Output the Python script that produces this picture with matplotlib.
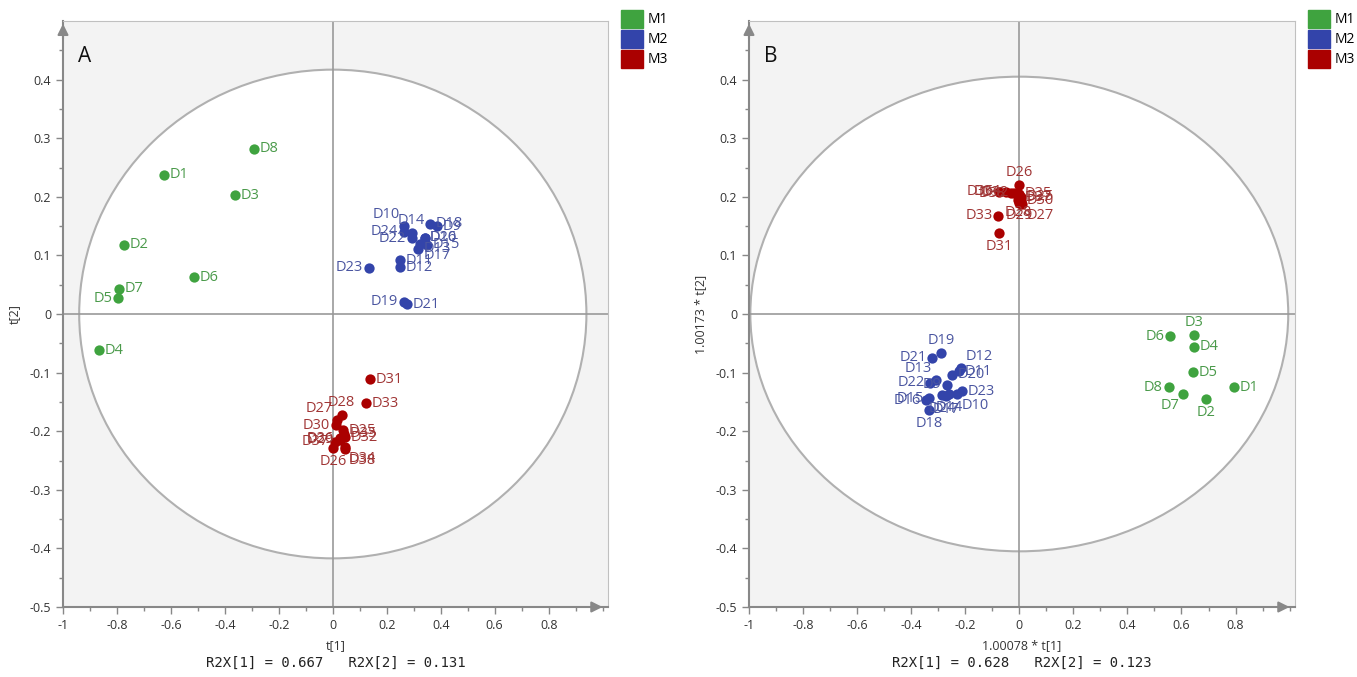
import numpy as np
import matplotlib.pyplot as plt
from matplotlib.patches import Ellipse, Patch

# ---- data ----
m1_names = ['D%d' % i for i in range(1, 9)]
m2_names = ['D%d' % i for i in range(9, 25)]
m3_names = ['D%d' % i for i in range(25, 39)]

# panel A : t[1], t[2]
a_m1_x = [-0.626, -0.774, -0.363, -0.867, -0.796, -0.515, -0.793, -0.293]
a_m1_y = [0.238, 0.118, 0.203, -0.062, 0.027, 0.063, 0.043, 0.282]
a_m2_x = [0.385, 0.263, 0.248, 0.248, 0.315, 0.292, 0.348, 0.340, 0.322,
          0.359, 0.263, 0.340, 0.274, 0.292, 0.133, 0.263]
a_m2_y = [0.150, 0.150, 0.092, 0.080, 0.111, 0.138, 0.118, 0.130, 0.120,
          0.154, 0.021, 0.130, 0.017, 0.129, 0.079, 0.140]
a_m3_x = [0.037, 0.000, 0.015, 0.033, 0.026, 0.010, 0.137, 0.044, 0.122,
          0.044, 0.040, 0.026, 0.007, 0.044]
a_m3_y = [-0.198, -0.229, -0.181, -0.173, -0.215, -0.190, -0.111, -0.210,
          -0.152, -0.227, -0.204, -0.212, -0.218, -0.230]

# panel B : 1.00078*t[1], 1.00173*t[2]
b_m1_x = [0.793, 0.692, 0.648, 0.648, 0.644, 0.559, 0.607, 0.552]
b_m1_y = [-0.125, -0.145, -0.036, -0.056, -0.099, -0.038, -0.137, -0.125]
b_m2_x = [-0.267, -0.230, -0.222, -0.215, -0.307, -0.259, -0.333, -0.344,
          -0.270, -0.333, -0.289, -0.248, -0.322, -0.330, -0.211, -0.285]
b_m2_y = [-0.121, -0.137, -0.098, -0.092, -0.113, -0.137, -0.144, -0.147,
          -0.140, -0.164, -0.067, -0.104, -0.075, -0.117, -0.132, -0.139]
b_m3_x = [0.005, 0.000, 0.010, -0.005, 0.000, 0.005, -0.074, -0.018,
          -0.078, -0.048, 0.000, -0.074, 0.000, -0.030]
b_m3_y = [0.200, 0.220, 0.188, 0.195, 0.190, 0.193, 0.138, 0.207,
          0.168, 0.209, 0.205, 0.209, 0.198, 0.206]

groups = ['M1', 'M2', 'M3']
colors = ['#3fa33f', '#3344aa', '#aa0000']
text_colors = ['#4a9a4a', '#4a55a0', '#a03535']

# label placement (default right of the point)
place_a = {'D5': 'l', 'D10': 'tl', 'D14': 't', 'D24': 'l', 'D22': 'l',
           'D17': 'br', 'D23': 'l', 'D19': 'l', 'D28': 't', 'D27': 'tl',
           'D30': 'l', 'D36': 'l', 'D29': 'l', 'D37': 'l', 'D34': 'br',
           'D26': 'b', 'D38': 'br'}
place_b = {'D3': 't', 'D6': 'l', 'D8': 'l', 'D7': 'bl', 'D2': 'b',
           'D19': 't', 'D21': 'l', 'D12': 'tr', 'D13': 'tl', 'D22': 'l',
           'D9': 'l', 'D14': 'b', 'D24': 'b', 'D17': 'b', 'D15': 'l',
           'D16': 'l', 'D18': 'b', 'D10': 'br',
           'D26': 't', 'D34': 'l', 'D36': 'l', 'D32': 'l', 'D38': 'l',
           'D29': 'b', 'D28': 'b', 'D27': 'br', 'D33': 'l', 'D31': 'b'}
offs = {'r': (4, 0, 'left', 'center'), 'l': (-4, 0, 'right', 'center'),
        't': (0, 4, 'center', 'bottom'), 'b': (0, -4, 'center', 'top'),
        'tr': (3, 3, 'left', 'bottom'), 'tl': (-3, 3, 'right', 'bottom'),
        'br': (3, -3, 'left', 'top'), 'bl': (-3, -3, 'right', 'top')}

plt.rcParams['font.family'] = ['Open Sans', 'DejaVu Sans']

W, H = 1357, 677
fig = plt.figure(figsize=(W / 100, H / 100), dpi=100)


def panel(rect, data, place, ell, letter, xlab, ylab, r2, legx):
    ax = fig.add_axes(rect)
    ax.set_facecolor('#f3f3f3')
    ax.set_xlim(-1, 1.02)
    ax.set_ylim(-0.5, 0.5)
    ax.add_patch(Ellipse((0, 0), 2 * ell[0], 2 * ell[1], facecolor='white',
                         edgecolor='#b0b0b0', lw=1.5, zorder=1))
    ax.axhline(0, color='#999999', lw=1.2, zorder=2)
    ax.axvline(0, color='#999999', lw=1.2, zorder=2)
    for g, (xs, ys, names) in enumerate(data):
        ax.scatter(xs, ys, s=55, color=colors[g], zorder=4, linewidths=0)
        for x, y, n in zip(xs, ys, names):
            dx, dy, ha, va = offs[place.get(n, 'r')]
            ax.annotate(n, (x, y), xytext=(dx, dy), textcoords='offset points',
                        ha=ha, va=va, fontsize=10.5, color=text_colors[g],
                        zorder=5)
    ax.set_xticks(np.arange(-1, 0.81, 0.2))
    ax.set_xticks(np.arange(-1, 1.01, 0.1), minor=True)
    ax.set_yticks(np.arange(-0.5, 0.41, 0.1))
    ax.set_yticks(np.arange(-0.5, 0.5, 0.05), minor=True)
    ax.set_xticklabels(['-1', '-0.8', '-0.6', '-0.4', '-0.2', '0', '0.2',
                        '0.4', '0.6', '0.8'])
    ax.set_yticklabels(['-0.5', '-0.4', '-0.3', '-0.2', '-0.1', '0', '0.1',
                        '0.2', '0.3', '0.4'])
    ax.tick_params(colors='#888888', labelcolor='#333333', labelsize=9,
                   length=5, width=1)
    ax.tick_params(which='minor', colors='#888888', length=3, width=1)
    for s in ['top', 'right']:
        ax.spines[s].set_color('#c0c0c0')
    for s in ['left', 'bottom']:
        ax.spines[s].set_color('#888888')
        ax.spines[s].set_linewidth(1.5)
    ax.annotate('', xy=(0, 1), xytext=(0, 0.965), xycoords='axes fraction',
                arrowprops=dict(arrowstyle='-|>', color='#888888',
                                mutation_scale=16, lw=1.5), zorder=6)
    ax.annotate('', xy=(0.995, 0), xytext=(0.965, 0), xycoords='axes fraction',
                arrowprops=dict(arrowstyle='-|>', color='#888888',
                                mutation_scale=16, lw=1.5), zorder=6)
    ax.text(0.027, 0.94, letter, transform=ax.transAxes, fontsize=15,
            color='#111111', va='center')
    ax.set_xlabel(xlab, fontsize=9, color='#333333', labelpad=5)
    ax.set_ylabel(ylab, fontsize=9, color='#333333', labelpad=6)
    ax.text(0.5, -0.084, r2, transform=ax.transAxes, ha='center', va='top',
            fontsize=10, family='DejaVu Sans Mono', color='#222222')
    fig.legend(handles=[Patch(facecolor=c, edgecolor=c) for c in colors],
               labels=groups, loc='upper left',
               bbox_to_anchor=(legx / W, 1 - 10 / H), frameon=False,
               fontsize=10, handlelength=1.6, handleheight=1.6,
               handletextpad=0.3, labelspacing=0.15, borderpad=0,
               borderaxespad=0)
    return ax


panel([63 / W, 1 - 607 / H, 545 / W, 586 / H],
      [(a_m1_x, a_m1_y, m1_names), (a_m2_x, a_m2_y, m2_names),
       (a_m3_x, a_m3_y, m3_names)],
      place_a, (0.94, 0.417), 'A', 't[1]', 't[2]',
      'R2X[1] = 0.667   R2X[2] = 0.131', 621)

panel([749 / W, 1 - 607 / H, 546 / W, 586 / H],
      [(b_m1_x, b_m1_y, m1_names), (b_m2_x, b_m2_y, m2_names),
       (b_m3_x, b_m3_y, m3_names)],
      place_b, (0.995, 0.405), 'B', '1.00078 * t[1]', '1.00173 * t[2]',
      'R2X[1] = 0.628   R2X[2] = 0.123', 1308)

fig.savefig('out.png', dpi=100, facecolor='white')
